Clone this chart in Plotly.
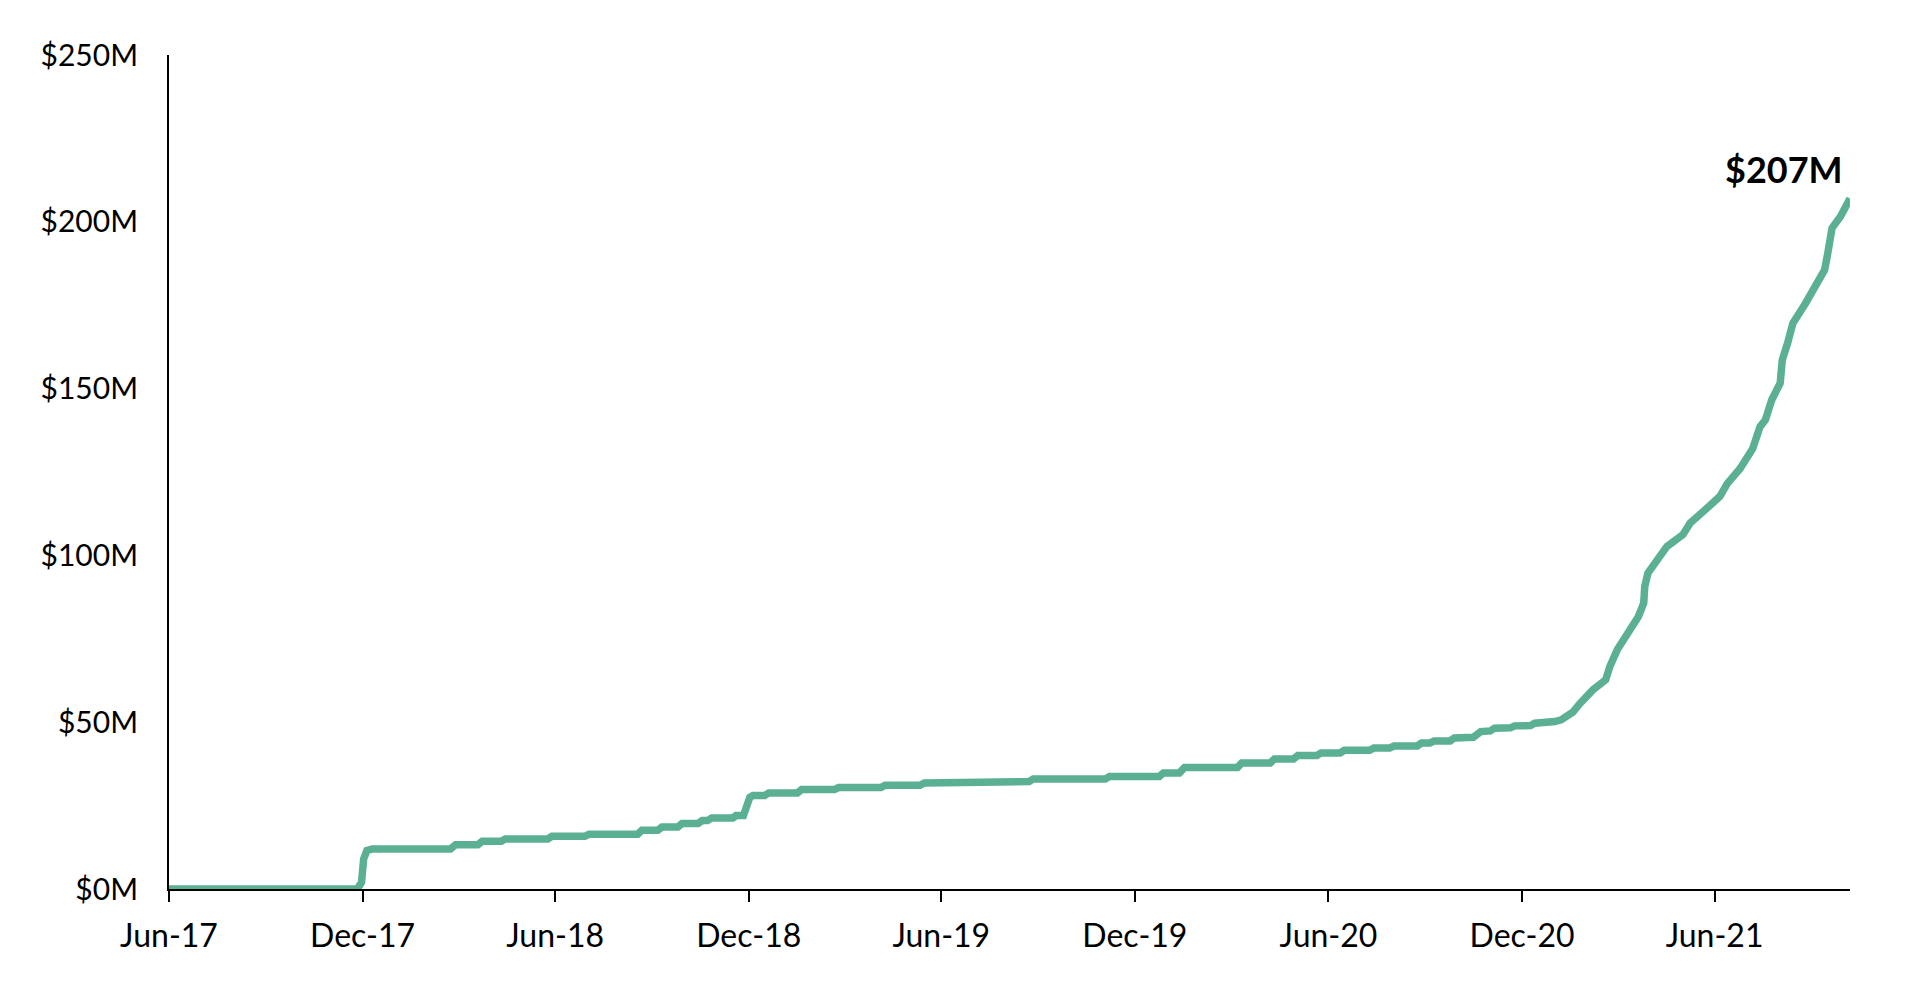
import plotly.graph_objects as go

# ---- data ----
dates = [
    "2017-06-01", "2017-11-26", "2017-11-30", "2017-12-02", "2017-12-05", "2017-12-10",
    "2018-02-22", "2018-02-27", "2018-03-20", "2018-03-24", "2018-04-11", "2018-04-15",
    "2018-05-25", "2018-05-29", "2018-06-29", "2018-07-03", "2018-08-18", "2018-08-22",
    "2018-09-06", "2018-09-10", "2018-09-25", "2018-09-29", "2018-10-14", "2018-10-18",
    "2018-10-23", "2018-10-27", "2018-11-16", "2018-11-19", "2018-11-26", "2018-11-29",
    "2018-12-02", "2018-12-05", "2018-12-16", "2018-12-20", "2019-01-16", "2019-01-20",
    "2019-02-20", "2019-02-24", "2019-04-05", "2019-04-09", "2019-05-12", "2019-05-16",
    "2019-06-18", "2019-06-22", "2019-08-23", "2019-08-27", "2019-11-03", "2019-11-07",
    "2019-12-24", "2019-12-28", "2020-01-12", "2020-01-17", "2020-03-07", "2020-03-11",
    "2020-04-07", "2020-04-11", "2020-04-29", "2020-05-03", "2020-05-21", "2020-05-25",
    "2020-06-12", "2020-06-16", "2020-07-10", "2020-07-14", "2020-07-29", "2020-08-02",
    "2020-08-24", "2020-08-28", "2020-09-05", "2020-09-09", "2020-09-24", "2020-09-28",
    "2020-10-16", "2020-10-23", "2020-11-01", "2020-11-05", "2020-11-20", "2020-11-24",
    "2020-12-09", "2020-12-13", "2020-12-28", "2021-01-01", "2021-01-07", "2021-01-11",
    "2021-01-18", "2021-01-25", "2021-02-06", "2021-02-18", "2021-02-22", "2021-03-01",
    "2021-03-10", "2021-03-21", "2021-03-26", "2021-03-27", "2021-03-30", "2021-04-08",
    "2021-04-17", "2021-05-02", "2021-05-09", "2021-05-25", "2021-06-06", "2021-06-13",
    "2021-06-25", "2021-07-07", "2021-07-14", "2021-07-19", "2021-07-25", "2021-08-02",
    "2021-08-04", "2021-08-09", "2021-08-14", "2021-08-26", "2021-09-04", "2021-09-13",
    "2021-09-16", "2021-09-20", "2021-09-28", "2021-10-05", "2021-10-07",
]
values_musd = [
    0, 0, 2, 9, 11.5, 12.0,
    12.0, 13.3, 13.3, 14.3, 14.3, 15.0,
    15.0, 15.8, 15.8, 16.4, 16.4, 17.6,
    17.6, 18.6, 18.6, 19.6, 19.6, 20.5,
    20.5, 21.3, 21.3, 22.0, 22.0, 25.5,
    27.5, 28.0, 28.0, 28.8, 28.8, 29.8,
    29.8, 30.4, 30.4, 31.1, 31.1, 31.8,
    31.8, 32.2, 32.2, 33.0, 33.0, 33.7,
    33.7, 34.8, 34.8, 36.4, 36.4, 37.8,
    37.8, 39.0, 39.0, 40.0, 40.0, 40.8,
    40.8, 41.6, 41.6, 42.3, 42.3, 42.9,
    42.9, 43.8, 43.8, 44.4, 44.4, 45.3,
    45.5, 47.2, 47.4, 48.2, 48.3, 48.9,
    49.0, 49.7, 49.8, 50.2, 50.7, 51.5,
    53.0, 55.7, 59.7, 62.7, 66.7, 71.7,
    76.7, 81.7, 85.7, 90.7, 94.7, 98.7,
    102.7, 106.2, 109.7, 114.2, 117.7, 121.5,
    126.0, 132.0, 138.6, 140.6, 146.6, 151.6,
    158.6, 163.6, 169.6, 175.6, 180.6, 185.6,
    190.6, 198.1, 201.6, 205.5, 207.0,
]

x_tick_dates = ["2017-06-01", "2017-12-01", "2018-06-01", "2018-12-01", "2019-06-01",
                "2019-12-01", "2020-06-01", "2020-12-01", "2021-06-01"]
x_tick_labels = ["Jun-17", "Dec-17", "Jun-18", "Dec-18", "Jun-19",
                 "Dec-19", "Jun-20", "Dec-20", "Jun-21"]
y_tick_vals = [0, 50, 100, 150, 200, 250]
y_tick_labels = ["$0M", "$50M", "$100M", "$150M", "$200M", "$250M"]
end_label = "$207M"

LINE_COLOR = "#5BB094"
FONT = "Lato"

fig = go.Figure()
fig.add_trace(go.Scatter(
    x=dates, y=values_musd, mode="lines",
    line=dict(color=LINE_COLOR, width=7.5),
    cliponaxis=False, hoverinfo="skip", showlegend=False,
))

fig.add_annotation(
    x=dates[-1], y=values_musd[-1], text=f"<b>{end_label}</b>",
    showarrow=False, xanchor="right", yanchor="bottom",
    xshift=-5, yshift=5,
    font=dict(family=FONT, size=36, color="#000000"),
)

# page body has an 8px default margin, so margins are offset accordingly
fig.update_layout(
    width=1908, height=984,
    paper_bgcolor="white", plot_bgcolor="white",
    margin=dict(l=161, r=66, t=47, b=103, autoexpand=False),
    font=dict(family=FONT, color="#000000"),
    showlegend=False,
)
fig.update_xaxes(
    type="date", range=["2017-06-01", "2021-10-07"],
    tickmode="array", tickvals=x_tick_dates, ticktext=x_tick_labels,
    showgrid=False, zeroline=False,
    showline=True, linecolor="#000000", linewidth=2,
    ticks="outside", ticklen=11, tickwidth=2, tickcolor="#000000",
    tickfont=dict(family=FONT, size=32, color="#000000"),
    ticklabelstandoff=7,
    layer="below traces",
)
fig.update_yaxes(
    range=[0, 250],
    tickmode="array", tickvals=y_tick_vals, ticktext=y_tick_labels,
    showgrid=False, zeroline=False,
    showline=True, linecolor="#000000", linewidth=2,
    ticks="",
    tickfont=dict(family=FONT, size=30, color="#000000"),
    ticklabelstandoff=23,
    layer="below traces",
)

fig.write_html("out.html")
